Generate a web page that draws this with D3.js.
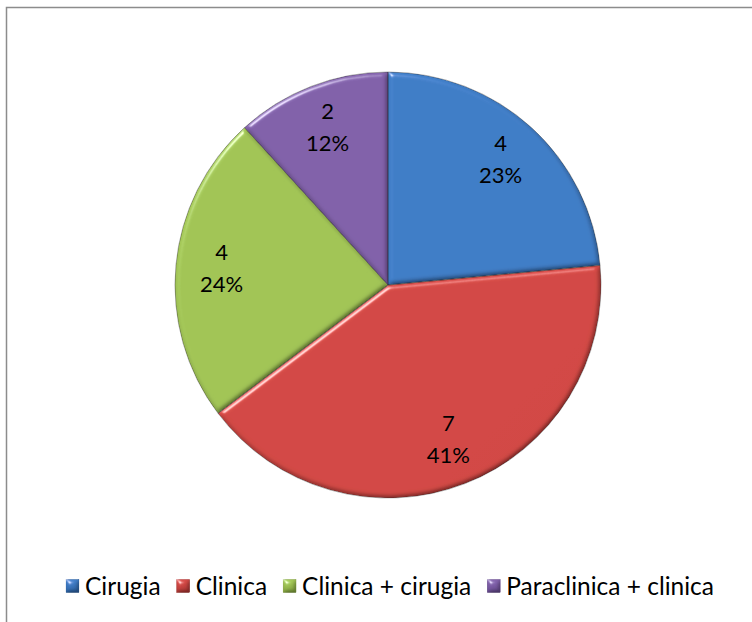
<!DOCTYPE html>
<html>
<head>
<meta charset="utf-8">
<script src="https://cdn.jsdelivr.net/npm/d3@7"></script>
<style>
  html, body { margin: 0; padding: 0; background: #fff; }
  svg { display: block; }
  text { font-family: Lato, "Open Sans", sans-serif; fill: #000; }
</style>
</head>
<body>
<svg id="chart" width="752" height="622"></svg>
<script>
// Treatment groups and counts
const categories = ["Cirugia", "Clinica", "Clinica + cirugia", "Paraclinica + clinica"];
const counts = [4, 7, 4, 2];
const percentLabels = ["23%", "41%", "24%", "12%"];
const baseColors = ["#3a75bd", "#cc4340", "#9abd50", "#7b5ba2"];
const lightColors = ["#417ec7", "#d34a46", "#a2c557", "#8262aa"];
const darkColors = ["#326bb0", "#bb3d3a", "#8fb146", "#70529a"];

const W = 752, H = 622;
const cx = 388, cy = 285, R = 213;

const svg = d3.select("#chart");
const defs = svg.append("defs");

// Bevelled look for slices and legend keys
const bevel = defs.append("filter").attr("id", "bevel")
  .attr("x", "-5%").attr("y", "-5%").attr("width", "110%").attr("height", "110%");
bevel.append("feGaussianBlur").attr("in", "SourceAlpha").attr("stdDeviation", 2.5).attr("result", "blur");
const spec = bevel.append("feSpecularLighting")
  .attr("in", "blur").attr("surfaceScale", 3).attr("specularConstant", 0.6)
  .attr("specularExponent", 60).attr("lighting-color", "#ffffff").attr("result", "spec");
spec.append("feDistantLight").attr("azimuth", 235).attr("elevation", 35);
bevel.append("feComposite").attr("in", "spec").attr("in2", "SourceAlpha").attr("operator", "in").attr("result", "specIn");
// darker rim on the far side
const diff = bevel.append("feDiffuseLighting")
  .attr("in", "blur").attr("surfaceScale", 3).attr("diffuseConstant", 1)
  .attr("lighting-color", "#ffffff").attr("result", "diff");
diff.append("feDistantLight").attr("azimuth", 235).attr("elevation", 60);
bevel.append("feComposite").attr("in", "SourceGraphic").attr("in2", "diff")
  .attr("operator", "arithmetic").attr("k1", 1.15).attr("k2", 0).attr("k3", 0).attr("k4", 0).attr("result", "lit");
bevel.append("feComposite").attr("in", "lit").attr("in2", "specIn")
  .attr("operator", "arithmetic").attr("k1", 0).attr("k2", 1).attr("k3", 1).attr("k4", 0).attr("result", "sum");
bevel.append("feComposite").attr("in", "sum").attr("in2", "SourceAlpha").attr("operator", "in");

// Frame around the chart area
svg.append("rect")
  .attr("x", 6.5).attr("y", 7.5)
  .attr("width", W + 10).attr("height", H + 10)
  .attr("fill", "none")
  .attr("stroke", "#8c8c8c")
  .attr("stroke-width", 1.5);

// Gentle shading per slice
categories.forEach((c, i) => {
  const g = defs.append("linearGradient")
    .attr("id", "grad" + i)
    .attr("gradientUnits", "userSpaceOnUse")
    .attr("x1", cx - R).attr("y1", cy - R)
    .attr("x2", cx + R).attr("y2", cy + R);
  g.append("stop").attr("offset", "0%").attr("stop-color", lightColors[i]);
  g.append("stop").attr("offset", "50%").attr("stop-color", baseColors[i]);
  g.append("stop").attr("offset", "100%").attr("stop-color", darkColors[i]);

  const lg = defs.append("linearGradient")
    .attr("id", "leg" + i)
    .attr("x1", 0).attr("y1", 0).attr("x2", 0).attr("y2", 1);
  lg.append("stop").attr("offset", "0%").attr("stop-color", lightColors[i]);
  lg.append("stop").attr("offset", "100%").attr("stop-color", darkColors[i]);
});

const data = categories.map((c, i) => ({ name: c, value: counts[i], pct: percentLabels[i], i }));

const pie = d3.pie().value(d => d.value).sort(null);
const arcs = pie(data);
const arc = d3.arc().innerRadius(0).outerRadius(R);

const g = svg.append("g").attr("transform", `translate(${cx},${cy})`);

g.selectAll("path.slice")
  .data(arcs)
  .join("path")
  .attr("class", "slice")
  .attr("d", arc)
  .attr("fill", d => `url(#grad${d.data.i})`)
  .attr("filter", "url(#bevel)");

// Thin dark outline around the slices
g.selectAll("path.edge")
  .data(arcs)
  .join("path")
  .attr("class", "edge")
  .attr("d", arc)
  .attr("fill", "none")
  .attr("stroke", "rgba(30,30,30,0.45)")
  .attr("stroke-width", 0.8);

// Data labels: count on top, share below
const labelPos = d3.arc().innerRadius(R * 0.785).outerRadius(R * 0.785);
const lbl = g.selectAll("g.lbl")
  .data(arcs)
  .join("g")
  .attr("class", "lbl")
  .attr("transform", d => `translate(${labelPos.centroid(d)})`);

lbl.append("text")
  .attr("text-anchor", "middle")
  .attr("y", -10)
  .attr("font-size", 22)
  .text(d => d.data.value);
lbl.append("text")
  .attr("text-anchor", "middle")
  .attr("y", 22)
  .attr("font-size", 22)
  .text(d => d.data.pct);

// Legend along the bottom
const legend = svg.append("g").attr("transform", "translate(0,586)");
const items = legend.selectAll("g.item")
  .data(data)
  .join("g")
  .attr("class", "item");

items.append("rect")
  .attr("width", 13).attr("height", 13)
  .attr("y", -6.5)
  .attr("fill", d => `url(#leg${d.i})`)
  .attr("stroke", d => darkColors[d.i])
  .attr("stroke-width", 0.6)
  .attr("filter", "url(#bevel)");

items.append("text")
  .attr("x", 19)
  .attr("dy", "0.36em")
  .attr("font-size", 24.5)
  .text(d => d.name);

// Lay out items side by side and centre the row
const gap = 16;
const widths = [];
items.each(function () { widths.push(this.getBBox().width); });
const total = d3.sum(widths) + gap * (widths.length - 1);
let x = 390 - total / 2;
items.attr("transform", (d, i) => {
  const tx = x;
  x += widths[i] + gap;
  return `translate(${tx},0)`;
});
</script>
</body>
</html>
